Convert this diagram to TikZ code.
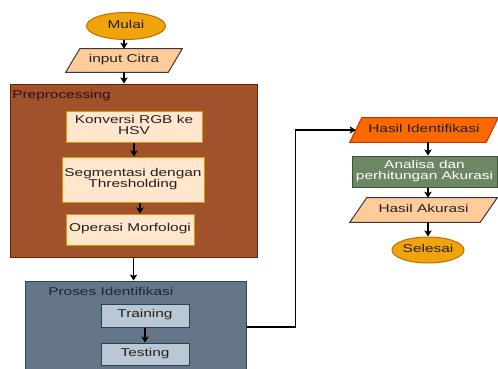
\documentclass[tikz,border=0pt]{standalone}
\usepackage{fontspec}
\setmainfont{Liberation Sans}
\usepackage{graphicx}
\usetikzlibrary{arrows.meta,backgrounds,calc,shapes.geometric}
\newcommand{\stx}[1]{\scalebox{1.36}[1]{\begin{tabular}{@{}c@{}}#1\end{tabular}}}
\definecolor{orF}{HTML}{F0A30A}\definecolor{orD}{HTML}{BD7000}
\definecolor{pcF}{HTML}{FFCC99}\definecolor{pcD}{HTML}{36393D}
\definecolor{brF}{HTML}{A0522D}\definecolor{brD}{HTML}{6D1F00}
\definecolor{lpF}{HTML}{FFE6CC}\definecolor{lpD}{HTML}{D79B00}
\definecolor{slF}{HTML}{647687}\definecolor{slD}{HTML}{314354}
\definecolor{lbF}{HTML}{BAC8D3}\definecolor{lbD}{HTML}{23445D}
\definecolor{rdF}{HTML}{FA6800}\definecolor{rdD}{HTML}{C73500}
\definecolor{gnF}{HTML}{6D8764}\definecolor{gnD}{HTML}{3A5431}
\definecolor{txt}{HTML}{222222}
\definecolor{preT}{HTML}{2D1206}
\definecolor{proT}{HTML}{1C2833}
\begin{document}
\begin{tikzpicture}[x=0.75pt,y=-0.75pt,
  every node/.style={font=\fontsize{8.5}{8.3}\selectfont, text=txt, inner sep=0pt},
  sz/.style 2 args={minimum width=#1*0.75pt, minimum height=#2*0.75pt},
  arr/.style={draw=black, line width=0.8pt, -{Stealth[length=4.5pt,width=5.5pt,inset=1pt]}},
  term/.style={ellipse, draw=orD, fill=orF, line width=0.75pt},
  cont/.style={rectangle, line width=0.75pt},
  pbox/.style={rectangle, draw=lpD, fill=lpF, line width=0.75pt},
  gbox/.style={rectangle, draw=lbD, fill=lbF, line width=0.75pt},
  abox/.style={rectangle, draw=gnD, fill=gnF, line width=0.75pt},
  para/.style={line width=0.75pt}]
\useasboundingbox (0,0) rectangle (498,368);
\clip (0,0) rectangle (498,368);

\node[term, sz={79}{27}] (mulai) at (126,26) {\stx{Mulai}};
\node[sz={102}{23}] (inp) at (124,60.5) {\stx{input Citra}};

\node[cont, fill=brF, draw=brD, sz={247}{173}] (pre) at (133.5,170.5) {};
\node[anchor=west, text=preT] (prel) at (12,96) {\stx{Preprocessing}};
\node[pbox, sz={136}{31}] (konv) at (134,126.5) {\stx{Konversi RGB ke\\HSV}};
\node[pbox, sz={142}{45}] (seg) at (133,179.5) {\stx{Segmentasi dengan\\Thresholding}};
\node[pbox, sz={128}{31}] (morf) at (130,229.5) {\stx{Operasi Morfologi}};

\node[cont, fill=slF, draw=slD, sz={221}{92}] (pros) at (135.5,327) {};
\node[anchor=west, text=proT] (prosl) at (48,293) {\stx{Proses Identifikasi}};
\node[gbox, sz={88}{23}] (train) at (145,315.5) {\stx{Training}};
\node[gbox, sz={88}{22}] (test) at (145,354) {\stx{Testing}};

\node[sz={136}{24}] (hid) at (424,130) {\stx{Hasil Identifikasi}};
\node[abox, sz={145}{31}, text=white] (anal) at (424.5,171.5) {\stx{Analisa dan\\perhitungan Akurasi}};
\node[sz={130}{24}] (hak) at (423.5,210) {\stx{Hasil Akurasi}};
\node[term, sz={72}{26}] (sel) at (428,250) {\stx{Selesai}};

\begin{scope}[on background layer]
  \fill[white] (0,0) rectangle (498,368);
  \draw[para, draw=pcD, fill=pcF] ($(inp.south west)+(-7,0)$) -- ($(inp.north west)+(7,0)$) -- ($(inp.north east)+(7,0)$) -- ($(inp.south east)+(-7,0)$) -- cycle;
  \draw[para, draw=rdD, fill=rdF] ($(hid.south west)+(-6,0)$) -- ($(hid.north west)+(6,0)$) -- ($(hid.north east)+(6,0)$) -- ($(hid.south east)+(-6,0)$) -- cycle;
  \draw[para, draw=pcD, fill=pcF] ($(hak.south west)+(-8.5,0)$) -- ($(hak.north west)+(8.5,0)$) -- ($(hak.north east)+(8.5,0)$) -- ($(hak.south east)+(-8.5,0)$) -- cycle;
\end{scope}

\draw[arr] (inp.north |- mulai.south) -- (inp.north);
\draw[arr] (inp.south) -- (inp.south |- pre.north);
\draw[arr] (konv.south) -- (konv.south |- seg.north);
\draw[arr] ([xshift=5.25pt]seg.south) -- ([xshift=5.25pt]seg.south |- morf.north);
\draw[arr] (pre.south) -- (pre.south |- pros.north);
\draw[arr] (train.south) -- (train.south |- test.north);
\draw[arr] (pros.east) -- ++(49,0) |- (hid.west);
\draw[arr] (sel.north |- hid.south) -- (sel.north |- anal.north);
\draw[arr] (sel.north |- anal.south) -- (sel.north |- hak.north);
\draw[arr] (sel.north |- hak.south) -- (sel.north);
\end{tikzpicture}
\end{document}
